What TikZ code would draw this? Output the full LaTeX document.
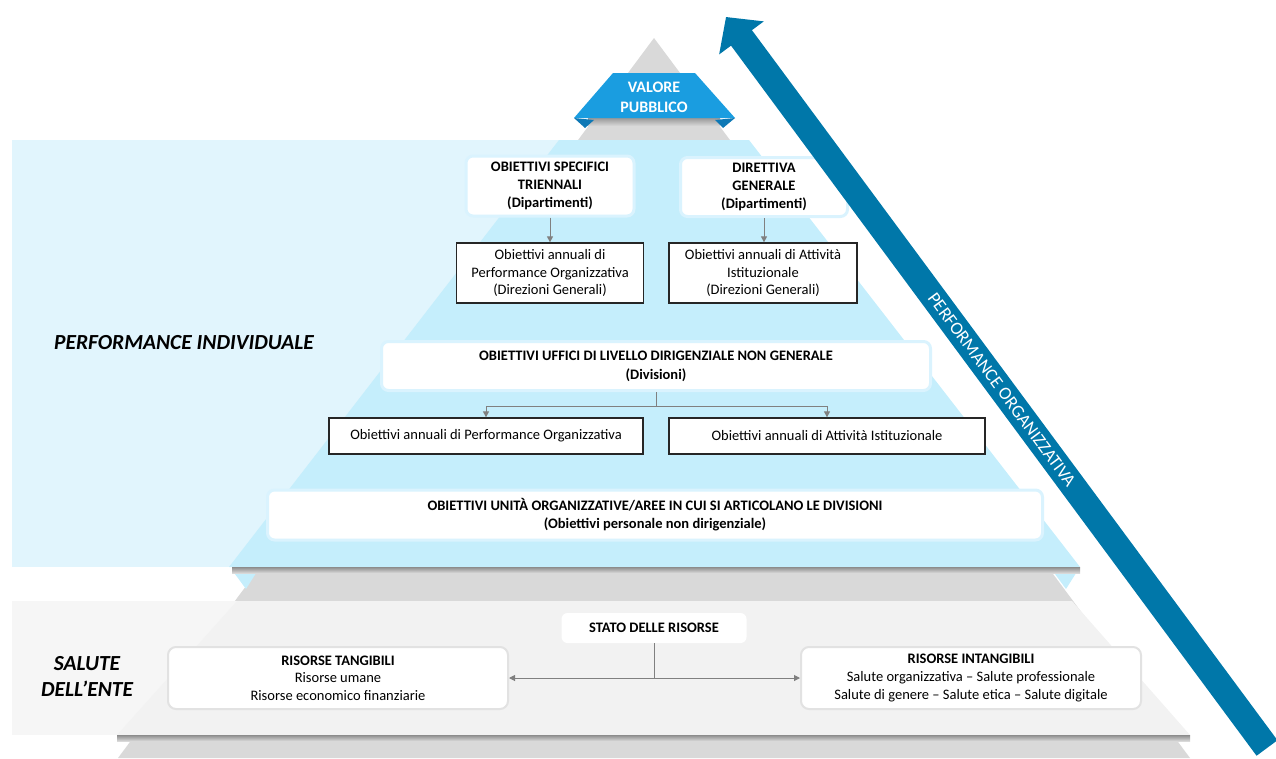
\documentclass[tikz,border=0pt]{standalone}
\usepackage{fontspec}
\setmainfont{Carlito}
\usetikzlibrary{arrows.meta}
\definecolor{palebg}{HTML}{E1F5FD}
\definecolor{layerblue}{HTML}{C5EEFC}
\definecolor{boxrim}{HTML}{DAF3FE}
\definecolor{pyrgrey}{HTML}{D9D9D9}
\definecolor{lightlayer}{HTML}{F2F2F2}
\definecolor{lightbg}{HTML}{F6F6F6}
\definecolor{greyrim}{HTML}{E2E2E2}
\definecolor{valblue}{HTML}{1A9DE0}
\definecolor{valdark}{HTML}{0E78B5}
\definecolor{perfblue}{HTML}{0077A9}
\definecolor{linkgrey}{HTML}{808080}

\begin{document}
\begin{tikzpicture}[x=1pt,y=-1pt,
   font=\fontsize{14.5}{17.6}\selectfont,
   every node/.style={align=center,inner sep=0pt},
   topbox/.style={draw=boxrim,line width=3pt,fill=white,rounded corners=7pt,font=\fontsize{14.5}{18}\selectfont\bfseries},
   annualbox/.style={draw=black!85,line width=1.3pt,fill=white},
   resbox/.style={draw=greyrim,line width=2pt,fill=white,rounded corners=8pt},
   link/.style={draw=linkgrey,line width=1pt,-{Triangle[length=6pt,width=6pt]}},
   sidelabel/.style={font=\fontsize{21.5}{26}\selectfont\bfseries\itshape}]
\useasboundingbox (0,0) rectangle (1276,758);
\fill[pyrgrey] (654,38) -- (1190,758) -- (118,758) -- cycle;
\fill[palebg] (12,140) rectangle (654,567);
\fill[layerblue] (559,140) -- (749,140) -- (1080,567) -- (229,567) -- cycle;
\fill[layerblue] (232,570) -- (258,570) -- (246,589) -- cycle;
\fill[layerblue] (1078,570) -- (1052,570) -- (1066,589) -- cycle;
\shade[top color=black!45,bottom color=pyrgrey] (232,567) rectangle (1080,573);
\fill[lightbg] (12,601) rectangle (654,735);
\fill[lightlayer] (237,601) -- (1072,601) -- (1190,735) -- (117,735) -- cycle;
\shade[top color=black!45,bottom color=pyrgrey] (117,735) rectangle (1190,741);
\shade[top color=black!40,bottom color=pyrgrey] (588,118) rectangle (720,126);
\fill[valblue] (613,73) -- (695,73) -- (735,118) -- (574,118) -- cycle;
\fill[valdark] (574,118) -- (594,120) -- (585,128) -- cycle;
\fill[valdark] (735,118) -- (715,120) -- (723,128) -- cycle;
\node[text=white,font=\fontsize{16}{20}\selectfont\bfseries] (valore) at (654,97) {VALORE\\PUBBLICO};

\node[topbox,minimum width=168pt,minimum height=60pt] (ost) at (550,186) {OBIETTIVI SPECIFICI\\TRIENNALI\\(Dipartimenti)};
\node[topbox,minimum width=167pt,minimum height=59pt] (dg) at (764,187) {DIRETTIVA\\GENERALE\\(Dipartimenti)};
\node[annualbox,minimum width=187pt,minimum height=60pt] (pog) at (550,273) {Obiettivi annuali di\\Performance Organizzativa\\(Direzioni Generali)};
\node[annualbox,minimum width=188pt,minimum height=60pt] (ais) at (763,273) {Obiettivi annuali di Attività\\Istituzionale\\(Direzioni Generali)};
\node[topbox,minimum width=549pt,minimum height=49pt,font=\fontsize{14.5}{19}\selectfont\bfseries] (uff) at (656,366) {OBIETTIVI UFFICI DI LIVELLO DIRIGENZIALE NON GENERALE\\(Divisioni)};
\node[annualbox,minimum width=314pt,minimum height=36pt] (pogdiv) at (486,436) {Obiettivi annuali di Performance Organizzativa};
\node[annualbox,minimum width=316pt,minimum height=36pt] (aisdiv) at (827,436) {Obiettivi annuali di Attività Istituzionale};
\node[topbox,minimum width=775pt,minimum height=50pt] (uni) at (655,515) {OBIETTIVI UNITÀ ORGANIZZATIVE/AREE IN CUI SI ARTICOLANO LE DIVISIONI\\(Obiettivi personale non dirigenziale)};

\node[fill=white,rounded corners=6pt,minimum width=185pt,minimum height=30pt,font=\fontsize{14.5}{17.6}\selectfont\bfseries] (stato) at (654,628) {STATO DELLE RISORSE};
\node[resbox,minimum width=340pt,minimum height=62pt] (tang) at (338,678) {\textbf{RISORSE TANGIBILI}\\Risorse umane\\Risorse economico finanziarie};
\node[resbox,minimum width=340pt,minimum height=62pt] (intang) at (971,678) {\textbf{RISORSE INTANGIBILI}\\Salute organizzativa – Salute professionale\\Salute di genere – Salute etica – Salute digitale};

\node[sidelabel] (perfind) at (184,343) {PERFORMANCE INDIVIDUALE};
\node[sidelabel] (salute) at (87,676) {SALUTE\\DELL’ENTE};

\draw[link] (ost.south) -- (ost.south |- pog.north);
\draw[link] (dg.south) -- (dg.south |- ais.north);
\draw[draw=linkgrey,line width=1pt] (uff.south) -- ++(0,14) coordinate (fork);
\draw[link] (fork) -| (pogdiv.north);
\draw[link] (fork) -| (aisdiv.north);
\draw[link] (stato.south) |- (tang.east);
\draw[link] (stato.south) |- (intang.west);

\coordinate (tail) at (1267,748);
\coordinate (head) at (726,17);
\draw[perfblue,line width=26pt,-{Triangle[length=26pt,width=54pt]}] (tail) -- (head);
\path (head) -- (tail) node[pos=0.51,sloped,text=white,font=\fontsize{18}{20}\selectfont] (perforg) {PERFORMANCE ORGANIZZATIVA};
\end{tikzpicture}
\end{document}
